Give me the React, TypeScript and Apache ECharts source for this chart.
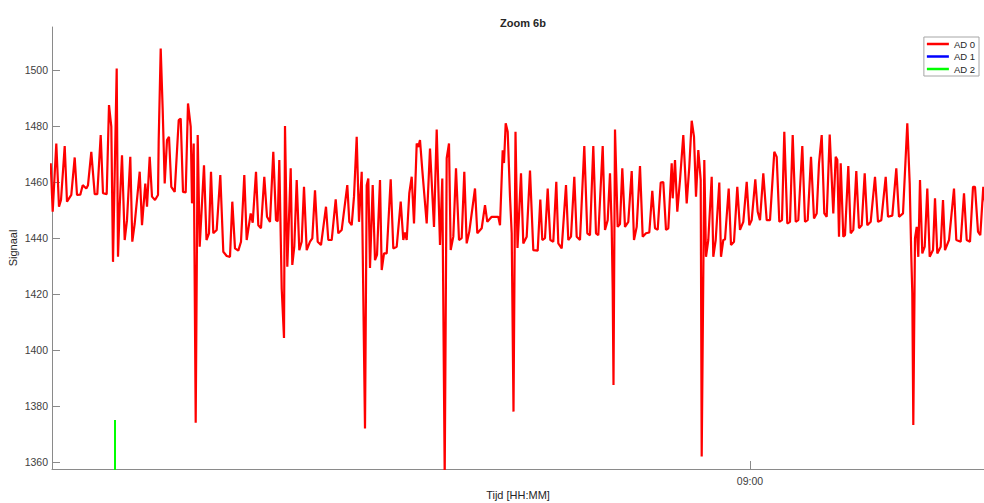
import React, { useEffect, useRef } from "react";
import * as echarts from "echarts";

// Time base: seconds since midnight of 08:48:20
const BASE_SEC = 31700;
const X_MIN_OFFSET = 2;
const X_MAX_OFFSET = 934;
const X_TICKS = [32400]; // 09:00
const Y_TICKS = [1360, 1380, 1400, 1420, 1440, 1460, 1480, 1500];
const Y_MIN = 1357.5;
const Y_MAX = 1515.4;

const SERIES_NAMES = ["AD 0", "AD 1", "AD 2"];

// AD 0: seconds after 08:48:20
const ad0Time = [
  0.7, 2.7, 6.3, 9, 11, 14.7, 17, 21.3, 24.7, 27, 30.3, 32.7, 36.3, 38, 41.3, 44.7, 47.3, 50.7, 53, 56.7,
  59, 61.3, 63, 64.7, 66.7, 68, 69.7, 72, 74.7, 77, 80.3, 82.3, 84.7, 89.7, 92, 95.3, 97, 99.7, 102, 105,
  108, 108.7, 110.7, 112.7, 114.7, 117, 119, 121.3, 124.7, 128.7, 130.7, 133, 135.7, 138, 140.7, 142, 143.7, 145.7, 147.7, 149.7,
  154, 156.5, 159, 161, 163.3, 166.7, 170.3, 173.3, 176.7, 180, 182.3, 185, 188.3, 191, 194.3, 196.7, 200.7, 202.7, 206, 208.3,
  211, 214.3, 217, 220, 223.3, 226, 227.7, 229.3, 231.7, 234, 235, 237.3, 240.7, 242.3, 244.3, 246.7, 249.3, 251.7, 254, 256.7,
  260, 262.3, 265, 267.7, 271, 276, 278.3, 281.7, 285.7, 288.3, 291.7, 297.3, 299.3, 301.7, 304, 306.7, 309, 311.7, 315, 316.7,
  318.3, 320, 322.7, 325, 327, 330, 331.7, 334, 336.7, 340.7, 343.3, 346.7, 350.7, 353.3, 355, 356.7, 359.3, 361.7, 364, 366.7,
  368.3, 370, 372.3, 376.7, 380, 384, 386.7, 390, 392.3, 394.7, 396.7, 399, 400.7, 403.3, 406, 409, 411.7, 414.3, 416.7, 419.3,
  425, 427.3, 431.7, 435, 437.3, 441.7, 448.3, 450, 452.7, 454, 455.7, 457.7, 460, 461.7, 463.5, 465.5, 467.5, 471, 473.3, 476.7,
  480, 483.3, 487.7, 490.3, 492.3, 495, 497.7, 500.3, 503.3, 506.3, 508.3, 511.7, 516, 518.3, 521, 524.3, 526.7, 530, 534.3, 537.3,
  540, 543.3, 546, 548.3, 552.7, 555, 557.7, 560, 561.7, 562.7, 563.5, 565, 567.7, 570, 572.3, 575, 578.3, 581.7, 584, 586.7,
  590, 592.7, 596, 599.3, 602.3, 605, 607.7, 610.7, 613.3, 616, 618.3, 621.7, 622.7, 625, 627.3, 630, 633.3, 636.7, 639.3, 641.7,
  644, 646, 648.3, 650.7, 651.7, 654.3, 656, 658.3, 661.7, 663.3, 665.7, 669.3, 671, 673.3, 675, 678.7, 681, 684, 687.3, 690,
  693.3, 696.7, 699.3, 701.7, 705.3, 707.7, 710, 713.3, 716.7, 720, 724.3, 726.7, 729.3, 732, 734.3, 737.3, 740, 742.7, 745.7, 748.3,
  752.3, 755, 757.7, 761, 764, 766.7, 769, 771.7, 774.3, 776.7, 779.7, 783.3, 785.7, 787.3, 789, 790.7, 793.3, 795, 798.3, 800.7,
  803.3, 806.3, 809, 811.7, 814.7, 817.3, 820.7, 825, 828, 831.3, 835.7, 838, 842.3, 846.3, 849, 853, 857.3, 859.7, 861.3, 862.3,
  863.3, 865, 866.7, 868.3, 870, 872.3, 874.7, 877.3, 879.7, 883, 885, 887.3, 890.7, 893, 895, 899, 904, 906.3, 910.7, 914,
  916.7, 920, 923, 925, 928, 930.3, 933.3, 936,
];
const ad0Value = [
  1466.7, 1449.4, 1473.8, 1451.2, 1453.6, 1472.9, 1453, 1455.4, 1468.8, 1455.4, 1455.5, 1458.9, 1457.7, 1458.9, 1470.8, 1455.7, 1455.7, 1476.8, 1456, 1455.7,
  1487.5, 1479.8, 1431.5, 1463.1, 1500.6, 1433.3, 1451.2, 1469.6, 1439.3, 1446.4, 1469, 1438.7, 1445.2, 1463.7, 1444.6, 1459.5, 1451.2, 1469, 1454.8, 1453.6,
  1455.4, 1475, 1507.7, 1485.7, 1459.5, 1475, 1476.2, 1458.3, 1456.5, 1482.1, 1482.7, 1456.5, 1456.3, 1488.1, 1479.8, 1452.4, 1473.8, 1374, 1476.8, 1436.9,
  1466, 1439.3, 1441.7, 1463.7, 1441.7, 1442.9, 1462.5, 1435.1, 1433.6, 1433.3, 1453, 1436.3, 1435.5, 1438.7, 1462.5, 1439.3, 1448.8, 1445.5, 1463.7, 1444.6,
  1443.5, 1461.9, 1447.6, 1445.8, 1470.8, 1446.4, 1446, 1467.9, 1422, 1404.3, 1480, 1429.8, 1464.9, 1430.4, 1436.9, 1460.7, 1435.7, 1438.7, 1458.3, 1435.7,
  1438.7, 1439.9, 1457.1, 1438.7, 1437.5, 1451.2, 1439.3, 1439.3, 1453.8, 1441.7, 1442.9, 1458.9, 1445.8, 1444.6, 1454.8, 1476.2, 1445.8, 1463.7, 1372, 1458.9,
  1461.3, 1429.3, 1458.9, 1432.1, 1434, 1460.7, 1428.6, 1434.5, 1434.5, 1461, 1436.3, 1436.9, 1453, 1439.3, 1442, 1439.3, 1456, 1461.9, 1445.2, 1473.8,
  1472.5, 1475, 1464.3, 1445.2, 1472, 1444, 1478.8, 1437.5, 1461.3, 1355, 1468.5, 1473.8, 1435.7, 1440.5, 1464.9, 1439.3, 1440, 1463.7, 1438.1, 1442.3,
  1457.7, 1441.7, 1443.5, 1451.8, 1445.8, 1447.6, 1447.6, 1444.6, 1471.4, 1466.8, 1481, 1478, 1454.8, 1441.7, 1378, 1478, 1436.5, 1463.1, 1438.1, 1440.5,
  1464.1, 1435.7, 1435.5, 1453.8, 1439.3, 1440, 1457.7, 1439.3, 1438.7, 1460.1, 1438.1, 1436.3, 1458.9, 1439.3, 1440.5, 1461.9, 1440.5, 1439.3, 1472.9, 1441.7,
  1441, 1472.9, 1441.7, 1441, 1472.9, 1442.9, 1446.4, 1463.1, 1444, 1421.4, 1387.5, 1478.8, 1444, 1445, 1464.9, 1444, 1445.8, 1463.9, 1439.3, 1444,
  1465.7, 1440.5, 1441.7, 1442, 1456.9, 1443.5, 1443, 1459.8, 1460, 1442.9, 1443.5, 1466.7, 1454.2, 1467.9, 1449.4, 1460.7, 1476.8, 1452.4, 1465.5, 1481.9,
  1476.2, 1454.8, 1471.4, 1460.7, 1362, 1467.9, 1433.3, 1439.3, 1461.9, 1433.3, 1439.3, 1459.8, 1433.3, 1439.3, 1439.5, 1457.7, 1437.5, 1438.7, 1458.3, 1442.9,
  1445.8, 1460.1, 1444.6, 1446.4, 1461, 1449.4, 1446.4, 1463.1, 1446.4, 1446.4, 1470.8, 1469, 1445.8, 1446.4, 1478, 1445.2, 1445.8, 1476.8, 1445.8, 1446.4,
  1472.9, 1445.8, 1446.4, 1469, 1447, 1448.8, 1466.7, 1476.8, 1448.8, 1447.6, 1477, 1448.8, 1469, 1468, 1440.5, 1466.7, 1440.5, 1441, 1465.7, 1441.7,
  1442.9, 1463.9, 1443.5, 1444.6, 1463.1, 1444.6, 1445.8, 1461.9, 1445.8, 1446.4, 1461.9, 1447.6, 1448, 1464.9, 1447.6, 1448.8, 1481, 1459.5, 1433.3, 1420.2,
  1373.2, 1440, 1444, 1433.3, 1460.7, 1434.5, 1436.9, 1457.7, 1433.3, 1435.7, 1454.2, 1434.5, 1436.9, 1453.6, 1435.7, 1439.3, 1457.7, 1439.3, 1438.7, 1456,
  1439.3, 1438.7, 1458.3, 1458.3, 1442.3, 1441, 1458.3, 1450,
];

// AD 1: no samples inside the visible window
const ad1Time: number[] = [];
const ad1Value: number[] = [];

// AD 2: single spike
const ad2Time = [65, 65];
const ad2Value = [1340, 1375];

const COLORS = ["#ff0000", "#0000ff", "#00ff00"];
const FONT = "'Liberation Sans', Arial, Helvetica, sans-serif";

function pairs(t: number[], v: number[]) {
  return t.map((x, i) => [BASE_SEC + x, v[i]]);
}

function fmtTime(sec: number) {
  const h = Math.floor(sec / 3600);
  const m = Math.floor((sec % 3600) / 60);
  return String(h).padStart(2, "0") + ":" + String(m).padStart(2, "0");
}

export default function App() {
  const ref = useRef<HTMLDivElement>(null);
  useEffect(() => {
    if (!ref.current) return;
    const chart = echarts.init(ref.current, null, { renderer: "svg" });
    const axisColor = "#8a8a8a";
    const labelColor = "#404040";
    const option: any = {
      animation: false,
      backgroundColor: "#ffffff",
      title: {
        text: "Zoom 6b",
        left: 518,
        top: 12,
        textAlign: "center",
        textStyle: { fontFamily: FONT, fontSize: 11, fontWeight: "bold", color: "#262626" },
      },
      legend: {
        data: SERIES_NAMES,
        orient: "vertical",
        right: 5,
        top: 37,
        icon: "rect",
        itemWidth: 22,
        itemHeight: 2.5,
        itemGap: 0.5,
        padding: [1, 4, 1, 3],
        borderColor: "#a6a6a6",
        borderWidth: 1,
        backgroundColor: "#ffffff",
        textStyle: { fontFamily: FONT, fontSize: 9.5, color: "#262626", lineHeight: 12 },
      },
      grid: { left: 52, right: 0, top: 27, bottom: 34, outerBoundsMode: "none", containLabel: false },
      xAxis: {
        type: "value",
        min: BASE_SEC + X_MIN_OFFSET,
        max: BASE_SEC + X_MAX_OFFSET,
        name: "Tijd [HH:MM]",
        nameLocation: "middle",
        nameGap: 20,
        nameMoveOverlap: false,
        nameTextStyle: { fontFamily: FONT, fontSize: 11, color: "#262626" },
        axisLine: { show: true, lineStyle: { color: axisColor, width: 1 } },
        axisTick: { show: true, inside: true, length: 8, customValues: X_TICKS, lineStyle: { color: axisColor } },
        axisLabel: {
          customValues: X_TICKS,
          formatter: (v: number) => fmtTime(v),
          fontFamily: FONT,
          fontSize: 10.5,
          color: labelColor,
          margin: 6,
        },
        splitLine: { show: false },
      },
      yAxis: {
        type: "value",
        min: Y_MIN,
        max: Y_MAX,
        name: "Signaal",
        nameLocation: "middle",
        nameGap: 34,
        nameMoveOverlap: false,
        nameTextStyle: { fontFamily: FONT, fontSize: 11, color: "#262626" },
        axisLine: { show: true, lineStyle: { color: axisColor, width: 1 } },
        axisTick: { show: true, inside: true, length: 8, customValues: Y_TICKS, lineStyle: { color: axisColor } },
        axisLabel: {
          customValues: Y_TICKS,
          formatter: (v: number) => String(v),
          fontFamily: FONT,
          fontSize: 10.5,
          color: labelColor,
          margin: 4,
        },
        splitLine: { show: false },
      },
      series: [
        {
          name: SERIES_NAMES[0],
          type: "line",
          data: pairs(ad0Time, ad0Value),
          symbol: "none",
          lineStyle: { color: COLORS[0], width: 2.2 },
          itemStyle: { color: COLORS[0] },
          clip: true,
        },
        {
          name: SERIES_NAMES[1],
          type: "line",
          data: pairs(ad1Time, ad1Value),
          symbol: "none",
          lineStyle: { color: COLORS[1], width: 2 },
          itemStyle: { color: COLORS[1] },
          clip: true,
        },
        {
          name: SERIES_NAMES[2],
          type: "line",
          data: pairs(ad2Time, ad2Value),
          symbol: "none",
          lineStyle: { color: COLORS[2], width: 2 },
          itemStyle: { color: COLORS[2] },
          clip: true,
        },
      ],
    };
    chart.setOption(option);
    return () => chart.dispose();
  }, []);
  return (
    <div
      ref={ref}
      style={{ position: "absolute", left: 0, top: 0, width: 984, height: 503, background: "#fff" }}
    />
  );
}
